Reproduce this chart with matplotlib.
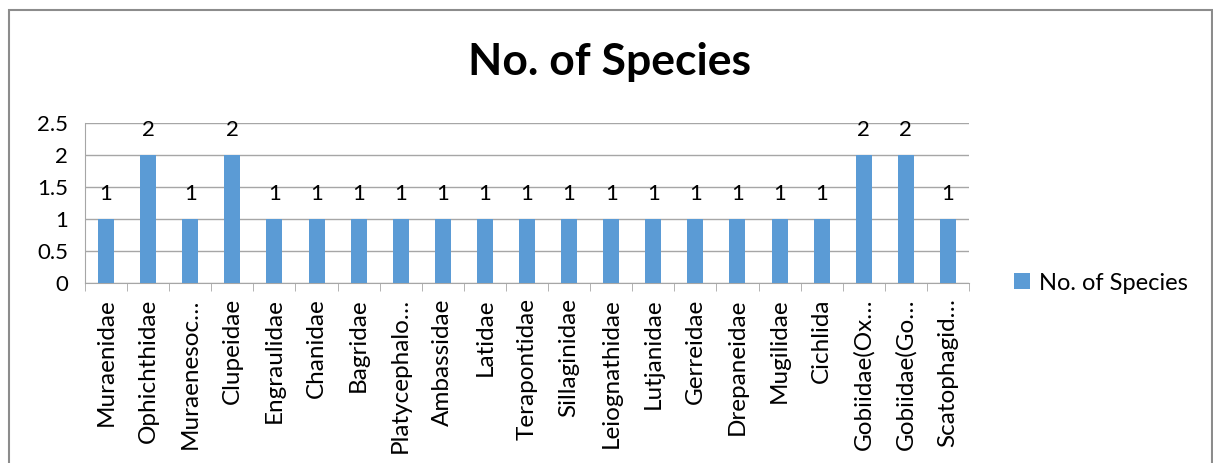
import matplotlib.pyplot as plt
import numpy as np
from matplotlib.patches import Rectangle

plt.rcParams['font.family'] = ['Lato', 'DejaVu Sans']

families = ["Muraenidae", "Ophichthidae", "Muraenesoc…", "Clupeidae", "Engraulidae",
            "Chanidae", "Bagridae", "Platycephalo…", "Ambassidae", "Latidae",
            "Terapontidae", "Sillaginidae", "Leiognathidae", "Lutjanidae", "Gerreidae",
            "Drepaneidae", "Mugilidae", "Cichlida", "Gobiidae(Ox…", "Gobiidae(Go…",
            "Scatophagid…"]
species = [1, 2, 1, 2, 1, 1, 1, 1, 1, 1, 1, 1, 1, 1, 1, 1, 1, 1, 2, 2, 1]

bar_color = "#5B9BD5"
grid_color = "#A6A6A6"

fig = plt.figure(figsize=(12.13, 4.63), dpi=100)
# outer chart border
fig.patches.append(Rectangle((9 / 1213, -0.05), 1203 / 1213, 1 - 10 / 463 + 0.05,
                             transform=fig.transFigure, fill=False,
                             edgecolor="#8C8C8C", linewidth=1.5))

ax = fig.add_axes([85 / 1213, 1 - 283 / 463, 884 / 1213, 160 / 463])
x = np.arange(len(families))
ax.bar(x, species, width=0.38, color=bar_color, label="No. of Species", zorder=3)

for xi, v in zip(x, species):
    ax.annotate(str(v), (xi, v), xytext=(0, 11), textcoords="offset points",
                ha="center", va="bottom", fontsize=16)

ax.set_xlim(-0.5, len(families) - 0.5)
ax.set_ylim(0, 2.5)
ax.set_yticks([0, 0.5, 1, 1.5, 2, 2.5])
ax.set_yticklabels(["0", "0.5", "1", "1.5", "2", "2.5"], fontsize=16)
ax.yaxis.grid(True, color=grid_color, linewidth=1, zorder=0)
ax.tick_params(axis="y", length=0, pad=12)

ax.set_xticks(x)
ax.set_xticklabels(families, rotation=90, fontsize=17.5)
ax.tick_params(axis="x", length=0, pad=11)
ax.set_xticks(np.arange(-0.5, len(families)), minor=True)
ax.tick_params(axis="x", which="minor", length=6, color=grid_color, direction="out")

for side in ["top", "right"]:
    ax.spines[side].set_visible(False)
ax.spines["left"].set_color(grid_color)
ax.spines["bottom"].set_color(grid_color)

fig.text(610 / 1213, 1 - 62 / 463, "No. of Species", ha="center", va="center",
         fontsize=32, fontweight="bold")

fig.legend(loc="center left", bbox_to_anchor=(993 / 1213, 1 - 283 / 463),
           frameon=False, fontsize=17, handlelength=0.65, handleheight=0.65,
           handletextpad=0.4)

plt.savefig("out.png", dpi=100)
